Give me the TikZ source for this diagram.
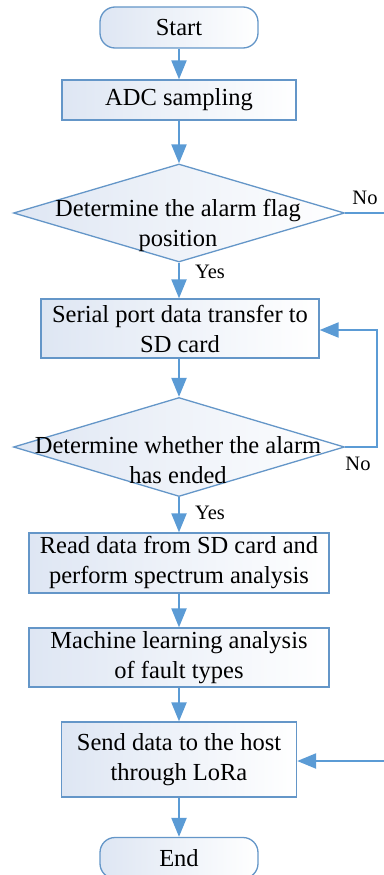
\documentclass[tikz,border=0pt]{standalone}
\usepackage{fontspec}
\setmainfont{Liberation Serif}
\usetikzlibrary{arrows.meta,shapes.geometric}
\definecolor{flowblue}{RGB}{91,155,213}
\definecolor{flowedge}{RGB}{100,150,200}
\definecolor{flowfill}{RGB}{222,230,243}
\tikzset{
  boxbase/.style={draw=flowedge, line width=1.3pt, left color=flowfill, right color=white,
    inner sep=0pt, align=center, font=\rmfamily\fontsize{24.5}{30}\selectfont},
  procbox/.style={boxbase, rectangle},
  termbox/.style={boxbase, rounded corners=15pt},
  decbox/.style={diamond, draw=flowedge, line width=1.3pt, left color=flowfill, right color=white,
    inner sep=0pt, aspect=3.4},
  dectext/.style={align=center, inner sep=0pt, font=\rmfamily\fontsize{24.5}{30}\selectfont},
  lbl/.style={inner sep=0pt, font=\rmfamily\fontsize{20.5}{24}\selectfont},
  flow/.style={draw=flowblue, line width=2.2pt, -{Triangle[length=19pt,width=15pt]}},
  plainline/.style={draw=flowblue, line width=2.2pt}
}
\begin{document}
\begin{tikzpicture}[x=1pt,y=-1pt]
  \useasboundingbox (0,0) rectangle (383,875);

  % process chain
  \node[termbox, minimum width=158pt, minimum height=41pt] (start) at (179,27.5) {Start};
  \node[procbox, minimum width=234pt, minimum height=40pt] (adc) at (179,100) {ADC sampling};
  \node[decbox, minimum width=331pt, minimum height=98pt] (flag) at (179,213) {};
  \node[dectext] (flagtxt) at (178,225) {Determine the alarm flag\\position};
  \node[procbox, minimum width=278pt, minimum height=59pt] (serial) at (180,328.5) {Serial port data transfer to\\SD card};
  \node[decbox, minimum width=331pt, minimum height=99pt] (ended) at (179,447) {};
  \node[dectext] (endedtxt) at (178,460) {Determine whether the alarm\\has ended};
  \node[procbox, minimum width=300pt, minimum height=60pt] (read) at (179,563) {Read data from SD card and\\perform spectrum analysis};
  \node[procbox, minimum width=300pt, minimum height=59pt] (learn) at (179,657.5) {Machine learning analysis\\of fault types};
  \node[procbox, minimum width=235pt, minimum height=75pt] (send) at (179,759.5) {Send data to the host\\through LoRa};
  \node[termbox, minimum width=158pt, minimum height=41pt] (finish) at (179,858) {End};

  % branch ends at the right margin
  \coordinate (noout) at (385,213);
  \coordinate (loraIn) at (385,761);
  \coordinate (loopcorner) at (377,447);

  % connectors
  \draw[flow] (start) -- (adc);
  \draw[flow] (adc.south -| flag.north) -- (flag.north);
  \draw[flow] (flag.south) -- (flag.south |- serial.north);
  \draw[flow] (serial.south -| ended.north) -- (ended.north);
  \draw[flow] (ended.south) -- (read);
  \draw[flow] (read) -- (learn);
  \draw[flow] (learn) -- (send);
  \draw[flow] (send) -- (finish);
  \draw[plainline] (flag.east) -- (noout);
  \draw[flow] (ended.east) -- (loopcorner) |- (serial.east |- 0,330);
  \draw[flow] (loraIn) -- (send.east |- loraIn);

  % branch labels
  \node[lbl] (yes1) at (210,272) {Yes};
  \node[lbl] (no1) at (365,198) {No};
  \node[lbl] (no2) at (358,464) {No};
  \node[lbl] (yes2) at (210,513) {Yes};
\end{tikzpicture}
\end{document}
